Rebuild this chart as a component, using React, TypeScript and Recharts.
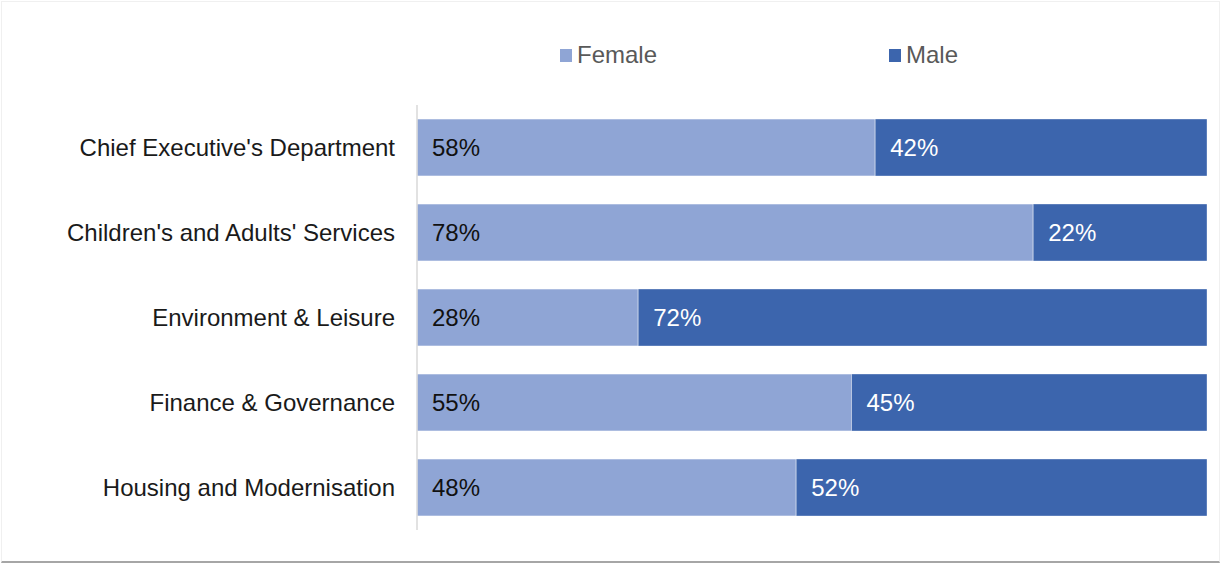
import React from 'react';
import { BarChart, Bar, XAxis, YAxis, LabelList } from 'recharts';

const categories = [
  "Chief Executive's Department",
  "Children's and Adults' Services",
  'Environment & Leisure',
  'Finance & Governance',
  'Housing and Modernisation',
];
const femaleValues = [58, 78, 28, 55, 48];
const maleValues = [42, 22, 72, 45, 52];
const seriesNames = ['Female', 'Male'];

const FEMALE = '#8FA5D5';
const MALE = '#3C65AD';
const FONT = '"Liberation Sans", Arial, sans-serif';
const FS = 24;

const data = categories.map((c, i) => ({
  name: c,
  female: femaleValues[i],
  male: maleValues[i],
}));

const fmt = (v: any) => `${v}%`;

export default function App() {
  return (
    <div
      style={{
        position: 'absolute',
        left: 0,
        top: 0,
        width: 1220,
        height: 563,
        background: '#fff',
        fontFamily: FONT,
      }}
    >
      <div
        style={{
          position: 'absolute',
          left: 1,
          top: 1,
          width: 1217,
          height: 559,
          borderLeft: '1px solid #f0f0f0',
          borderTop: '1px solid #f0f0f0',
          borderRight: '1px solid #f0f0f0',
          borderBottom: '2px solid #a6a6a6',
        }}
      />
      <div style={{ position: 'absolute', left: 0, top: 0 }}>
        <BarChart
          width={1220}
          height={563}
          data={data}
          layout="vertical"
          margin={{ top: 105, right: 13, bottom: 33, left: 0 }}
          barSize={57}
        >
          <XAxis type="number" domain={[0, 100]} hide />
          <YAxis
            type="category"
            dataKey="name"
            width={417}
            tickLine={false}
            tickSize={0}
            tickMargin={22}
            axisLine={{ stroke: '#d9d9d9', strokeWidth: 1.5 }}
            tick={{ fill: '#1a1a1a', fontSize: FS, fontFamily: FONT }}
          />
          <Bar
            dataKey="female"
            name={seriesNames[0]}
            stackId="a"
            fill={FEMALE}
            stroke="rgba(255,255,255,0.55)"
            strokeWidth={1}
            isAnimationActive={false}
          >
            <LabelList
              dataKey="female"
              position="insideLeft"
              offset={15}
              formatter={fmt}
              fill="#111"
              fontSize={FS}
              fontFamily={FONT}
            />
          </Bar>
          <Bar
            dataKey="male"
            name={seriesNames[1]}
            stackId="a"
            fill={MALE}
            stroke="rgba(255,255,255,0.35)"
            strokeWidth={1}
            isAnimationActive={false}
          >
            <LabelList
              dataKey="male"
              position="insideLeft"
              offset={15}
              formatter={fmt}
              fill="#ffffff"
              fontSize={FS}
              fontFamily={FONT}
            />
          </Bar>
        </BarChart>
      </div>
      <div
        style={{
          position: 'absolute',
          left: 560,
          top: 40,
          display: 'flex',
          alignItems: 'center',
          fontSize: FS,
          lineHeight: '30px',
          color: '#595959',
          fontFamily: FONT,
        }}
      >
        <span style={{ width: 12, height: 13, background: FEMALE, display: 'inline-block', marginRight: 5 }} />
        <span style={{ width: 312 }}>{seriesNames[0]}</span>
        <span style={{ width: 12, height: 13, background: MALE, display: 'inline-block', marginRight: 5 }} />
        <span>{seriesNames[1]}</span>
      </div>
    </div>
  );
}
